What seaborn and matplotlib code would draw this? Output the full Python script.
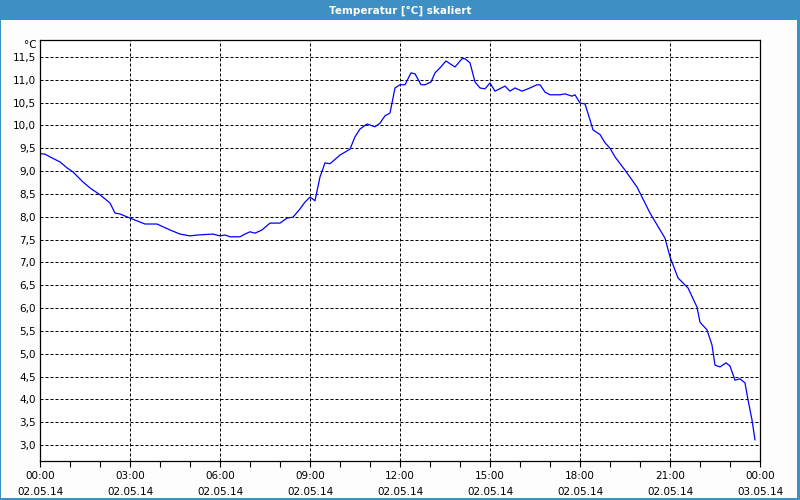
import pandas as pd
import matplotlib
matplotlib.use("Agg")
import matplotlib.pyplot as plt
import matplotlib.dates as mdates
from matplotlib.ticker import FuncFormatter, MultipleLocator
from matplotlib.patches import Rectangle
import seaborn as sns

times = ["00:00", "00:10", "00:20", "00:40", "00:54", "01:06", "01:26", "01:40", "02:00", "02:20",
         "02:30", "02:40", "03:00", "03:30", "03:54", "04:20", "04:40", "05:00", "05:16", "05:46",
         "06:00", "06:10", "06:20", "06:40", "06:50", "07:00", "07:10", "07:24", "07:40", "08:00",
         "08:14", "08:26", "08:40", "08:50", "09:00", "09:10", "09:20", "09:30", "09:40", "10:00",
         "10:20", "10:30", "10:40", "10:54", "11:10", "11:20", "11:30", "11:40", "11:50", "12:00",
         "12:10", "12:22", "12:30", "12:42", "12:50", "13:02", "13:10", "13:20", "13:32", "13:40",
         "13:50", "14:04", "14:10", "14:20", "14:30", "14:40", "14:50", "15:00", "15:10", "15:30",
         "15:40", "15:50", "16:04", "16:20", "16:34", "16:40", "16:50", "17:00", "17:20", "17:30",
         "17:44", "17:50", "18:00", "18:10", "18:20", "18:26", "18:40", "18:50", "19:00", "19:10",
         "19:30", "19:54", "20:20", "20:50", "21:00", "21:16", "21:36", "21:54", "22:00", "22:14",
         "22:24", "22:30", "22:40", "22:52", "23:00", "23:10", "23:20", "23:30", "23:36", "23:44",
         "23:50"]
temps = [9.38, 9.37, 9.31, 9.20, 9.07, 8.98, 8.76, 8.63, 8.48, 8.30,
         8.08, 8.06, 7.97, 7.84, 7.84, 7.71, 7.62, 7.58, 7.60, 7.62,
         7.58, 7.60, 7.56, 7.56, 7.62, 7.67, 7.64, 7.71, 7.86, 7.86,
         7.97, 7.99, 8.17, 8.32, 8.43, 8.35, 8.87, 9.18, 9.16, 9.35,
         9.48, 9.75, 9.92, 10.03, 9.97, 10.05, 10.21, 10.27, 10.82, 10.89,
         10.89, 11.15, 11.13, 10.89, 10.89, 10.95, 11.15, 11.26, 11.41, 11.35,
         11.28, 11.46, 11.46, 11.37, 10.95, 10.82, 10.80, 10.93, 10.75, 10.86,
         10.75, 10.82, 10.75, 10.82, 10.89, 10.89, 10.73, 10.67, 10.67, 10.69,
         10.64, 10.67, 10.49, 10.47, 10.12, 9.90, 9.80, 9.62, 9.50, 9.31,
         9.02, 8.65, 8.08, 7.53, 7.12, 6.66, 6.44, 6.02, 5.69, 5.52,
         5.19, 4.75, 4.71, 4.80, 4.73, 4.42, 4.45, 4.36, 3.99, 3.55,
         3.11]

title = "Temperatur [°C] skaliert"
unit = "°C"

df = pd.DataFrame({"Zeit": pd.to_datetime("2014-05-02 " + pd.Series(times)), "Temperatur": temps})

sns.set_style("white")
plt.rcParams["font.family"] = ["DejaVu Sans"]
plt.rcParams["text.color"] = "black"
plt.rcParams["xtick.color"] = "black"
plt.rcParams["ytick.color"] = "black"

fig = plt.figure(figsize=(8, 5), dpi=100, facecolor="#fcfdfc")

# Fensterrahmen + Titelleiste
bar_col = "#3d8fc4"
fig.patches.append(Rectangle((0, 0.96), 1, 0.04, transform=fig.transFigure, color=bar_col, zorder=0, lw=0))
fig.patches.append(Rectangle((0, 0), 1 / 800, 1, transform=fig.transFigure, color=bar_col, zorder=0, lw=0))
fig.patches.append(Rectangle((797 / 800, 0), 3 / 800, 1, transform=fig.transFigure, color=bar_col, zorder=0, lw=0))
fig.patches.append(Rectangle((0, 0), 1, 2 / 500, transform=fig.transFigure, color=bar_col, zorder=0, lw=0))
fig.text(0.5, 0.979, title, color="white", fontsize=7.5, fontweight="bold", ha="center", va="center")

ax = fig.add_axes([40 / 800, 39 / 500, 720 / 800, 421 / 500])
ax.set_facecolor("white")
sns.lineplot(data=df, x="Zeit", y="Temperatur", color="#0000ff", linewidth=0.9, ax=ax)

ax.set_xlim(pd.Timestamp("2014-05-02 00:00"), pd.Timestamp("2014-05-03 00:00"))
ax.set_ylim(2.65, 11.87)
ax.xaxis.set_major_locator(mdates.HourLocator(byhour=range(0, 24, 3)))
ax.xaxis.set_minor_locator(mdates.HourLocator())
ax.xaxis.set_major_formatter(mdates.DateFormatter("%H:%M\n%d.%m.%y"))
ax.yaxis.set_major_locator(MultipleLocator(0.5))
ax.yaxis.set_major_formatter(FuncFormatter(lambda v, p: f"{v:.1f}".replace(".", ",")))

ax.grid(True, which="major", color="black", linestyle=(0, (3, 2)), linewidth=0.72)
for s in ax.spines.values():
    s.set_color("black")
    s.set_linewidth(0.9)
ax.tick_params(axis="x", which="both", direction="out", length=4, width=0.8, color="black",
               labelsize=7.5, pad=3, bottom=True)
ax.tick_params(axis="y", length=0, labelsize=7.5, pad=3)
for lab in ax.get_xticklabels():
    lab.set_linespacing(1.75)
ax.set_xlabel("")
ax.set_ylabel("")
ax.text(-0.004, 1.0, unit, transform=ax.transAxes, ha="right", va="top", fontsize=7.5)

fig.savefig("out.png", dpi=100, facecolor=fig.get_facecolor())
